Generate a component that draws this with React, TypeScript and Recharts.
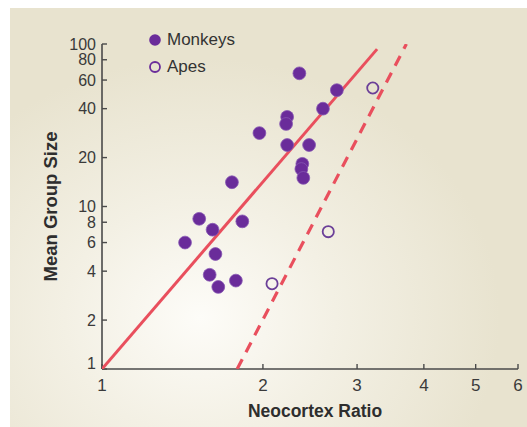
import React from 'react';
import {
  Legend,
  Scatter,
  ScatterChart,
  XAxis,
  YAxis,
} from 'recharts';

// neocortex ratio vs mean group size (log-log)
const monkeyRatio = [2.34, 2.75, 2.59, 2.22, 2.21, 1.97, 2.22, 2.44, 2.37, 2.36, 2.38, 1.75, 1.52, 1.61, 1.83, 1.43, 1.63, 1.59, 1.65, 1.78];
const monkeyGroup = [66, 52, 40, 35.6, 32.2, 28.3, 23.9, 23.9, 18.3, 17.0, 15.0, 14.1, 8.4, 7.2, 8.1, 6.0, 5.1, 3.8, 3.2, 3.5];

const apeRatio = [3.21, 2.65, 2.08];
const apeGroup = [53.6, 7.0, 3.35];

// regression lines, end points only
const monkeyFitRatio = [1, 3.27];
const monkeyFitGroup = [1, 93];
const apeFitRatio = [1.79, 3.71];
const apeFitGroup = [1, 100];

const xTicks = [1, 2, 3, 4, 5, 6];
const yTicks = [1, 2, 4, 6, 8, 10, 20, 40, 60, 80, 100];

const zip = (xs: number[], ys: number[]) => xs.map((x, i) => ({ x, y: ys[i] }));

const monkeys = zip(monkeyRatio, monkeyGroup);
const apes = zip(apeRatio, apeGroup);
const monkeyFit = zip(monkeyFitRatio, monkeyFitGroup);
const apeFit = zip(apeFitRatio, apeFitGroup);

const FONT = '"Liberation Sans", Arial, Helvetica, sans-serif';
const PURPLE = '#6a2c9a';
const RED = '#e94f5d';
const AXIS = '#4a4a4a';
const TEXT = '#3a3a3a';

function YTick(props: any) {
  const { x, y, payload } = props;
  // the "1" sits a little above the corner so it clears the x axis
  const shift = payload.value === 1 ? -6 : 0;
  return (
    <text x={x} y={y + shift} dy="0.355em" textAnchor="end" fill={TEXT} fontSize={16} fontFamily={FONT}>
      {payload.value}
    </text>
  );
}

function LegendBox() {
  const rows = [
    { label: 'Monkeys', filled: true },
    { label: 'Apes', filled: false },
  ];
  return (
    <div style={{ fontFamily: FONT, fontSize: 17, color: '#333' }}>
      {rows.map((r) => (
        <div key={r.label} style={{ display: 'flex', alignItems: 'center', height: 27 }}>
          <svg width={14} height={14} style={{ marginRight: 5 }}>
            <circle
              cx={7}
              cy={7}
              r={r.filled ? 5.8 : 5}
              fill={r.filled ? PURPLE : 'none'}
              stroke={r.filled ? 'none' : PURPLE}
              strokeWidth={1.8}
            />
          </svg>
          <span>{r.label}</span>
        </div>
      ))}
    </div>
  );
}

export default function App() {
  return (
    <div style={{ position: 'absolute', left: 0, top: 0, width: 527, height: 427, background: '#fff', overflow: 'hidden' }}>
      <div
        style={{
          position: 'absolute',
          left: 10,
          top: 8,
          width: 517,
          height: 419,
          background:
            'radial-gradient(ellipse 300px 260px at 190px 310px, #fdfcf8 0%, #f3f0e4 45%, #e8e3cf 100%)',
        }}
      />
      <div style={{ position: 'absolute', left: 0, top: 0 }}>
        <ScatterChart width={527} height={427} margin={{ top: 44, right: 9, bottom: 0, left: 0 }}>
          <XAxis
            type="number"
            dataKey="x"
            scale="log"
            domain={[1, 6]}
            ticks={xTicks}
            interval={0}
            allowDataOverflow
            height={58}
            axisLine={{ stroke: AXIS, strokeWidth: 1.6 }}
            tickLine={{ stroke: AXIS, strokeWidth: 1.4 }}
            tickSize={-5}
            tickMargin={15}
            tick={{ fill: TEXT, fontSize: 17, fontFamily: FONT }}
            label={{
              value: 'Neocortex Ratio',
              position: 'insideBottom',
              offset: 10,
              dx: 5,
              style: { fill: '#2e2e2e', fontSize: 17.5, fontWeight: 700, fontFamily: FONT },
            }}
          />
          <YAxis
            type="number"
            dataKey="y"
            scale="log"
            domain={[1, 100]}
            ticks={yTicks}
            interval={0}
            allowDataOverflow
            width={102}
            axisLine={{ stroke: AXIS, strokeWidth: 1.6 }}
            tickLine={{ stroke: AXIS, strokeWidth: 1.4 }}
            tickSize={-5}
            tickMargin={11}
            tick={<YTick />}
            label={{
              value: 'Mean Group Size',
              angle: -90,
              position: 'insideLeft',
              offset: 50,
              style: { fill: '#2e2e2e', fontSize: 18.5, fontWeight: 700, fontFamily: FONT, textAnchor: 'middle' },
            }}
          />
          <Legend
            layout="vertical"
            align="center"
            verticalAlign="middle"
            content={<LegendBox />}
            wrapperStyle={{ top: 26, left: 148, width: 'auto' }}
          />
          <Scatter
            data={monkeyFit}
            line={{ stroke: RED, strokeWidth: 3 }}
            shape={() => <g />}
            legendType="none"
            isAnimationActive={false}
          />
          <Scatter
            data={apeFit}
            line={{ stroke: RED, strokeWidth: 3.2, strokeDasharray: '11 8' }}
            shape={() => <g />}
            legendType="none"
            isAnimationActive={false}
          />
          <Scatter
            name="Monkeys"
            data={monkeys}
            shape={(p: any) => <circle cx={p.cx} cy={p.cy} r={6.4} fill={PURPLE} stroke="#8657b3" strokeWidth={0.8} />}
            isAnimationActive={false}
          />
          <Scatter
            name="Apes"
            data={apes}
            shape={(p: any) => <circle cx={p.cx} cy={p.cy} r={5.6} fill="none" stroke="#6b3f98" strokeWidth={1.8} />}
            isAnimationActive={false}
          />
        </ScatterChart>
      </div>
    </div>
  );
}
